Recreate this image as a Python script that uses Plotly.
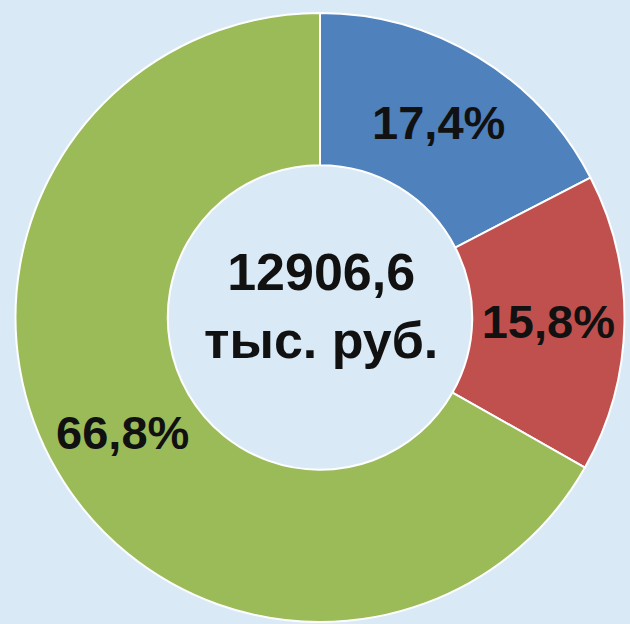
import plotly.graph_objects as go

# Data
categories = ["Категория 1", "Категория 2", "Категория 3"]
shares = [17.4, 15.8, 66.8]
share_labels = ["17,4%", "15,8%", "66,8%"]
total_value = "12906,6"
total_unit = "тыс. руб."
colors = ["#4f81bd", "#c0504d", "#9bbb59"]

W, H = 630, 624
BG = "#d9eaf6"

fig = go.Figure(
    go.Pie(
        labels=categories,
        values=shares,
        text=share_labels,
        texttemplate="<b>%{text}</b>",
        textinfo="text",
        textposition="inside",
        insidetextorientation="horizontal",
        textfont=dict(family="Liberation Sans, Arial, sans-serif", size=47, color="#111111"),
        marker=dict(colors=colors, line=dict(color="#ffffff", width=2)),
        hole=0.5,
        sort=False,
        direction="clockwise",
        rotation=0,
        showlegend=False,
        hoverinfo="label+percent",
        domain=dict(x=[15.5 / W, 624.5 / W], y=[2 / H, 611 / H]),
    )
)

fig.add_annotation(
    x=321 / W, y=1 - 306 / H, xref="paper", yref="paper",
    text=f"<b>{total_value}<br>{total_unit}</b>",
    showarrow=False,
    font=dict(family="Liberation Sans, Arial, sans-serif", size=52, color="#111111"),
    align="center",
)

fig.update_layout(
    width=W, height=H,
    margin=dict(l=0, r=0, t=0, b=0),
    paper_bgcolor=BG,
    plot_bgcolor=BG,
)

fig.write_html(
    "out.html",
    config={"displayModeBar": False},
    post_script=f"document.body.style.margin='0';document.body.style.background='{BG}';document.body.style.overflow='hidden';",
)
